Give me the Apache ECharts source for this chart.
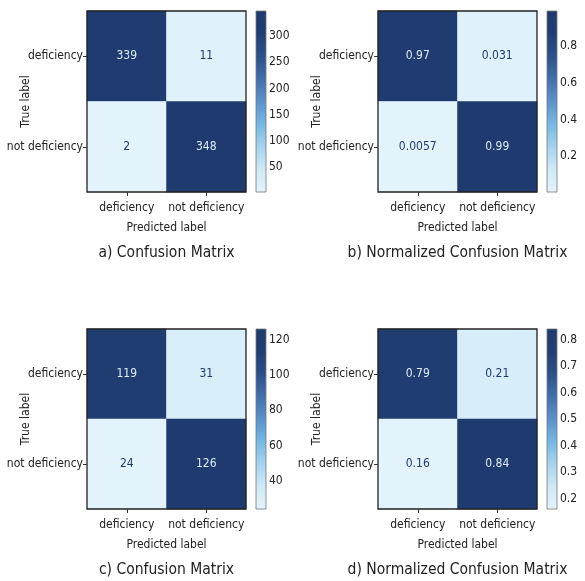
<!DOCTYPE html>
<html><head><meta charset="utf-8">
<script src="https://cdn.jsdelivr.net/npm/echarts@6/dist/echarts.min.js"></script>
<style>html,body{margin:0;padding:0;background:#fff}#c{width:585px;height:581px}</style>
</head><body><div id="c"></div>
<script>
var categories = ['deficiency', 'not deficiency'];
// rows = true label, cols = predicted label
var cmA = [[339, 11], [2, 348]];
var cmB = [[0.97, 0.031], [0.0057, 0.99]];
var cmC = [[119, 31], [24, 126]];
var cmD = [[0.79, 0.21], [0.16, 0.84]];
var ticksA = [50, 100, 150, 200, 250, 300];
var ticksB = [0.2, 0.4, 0.6, 0.8];
var ticksC = [40, 60, 80, 100, 120];
var ticksD = [0.2, 0.3, 0.4, 0.5, 0.6, 0.7, 0.8];
var subtitles = ['a) Confusion Matrix', 'b) Normalized Confusion Matrix', 'c) Confusion Matrix', 'd) Normalized Confusion Matrix'];

var FONT = '"Liberation Sans Narrow", "DejaVu Sans Condensed", "Roboto Condensed", sans-serif';
var cmap = ['#e3f3fb', '#cfe9f7', '#a6d4ef', '#74b8e4', '#5b92cc', '#4170ad', '#2c508a', '#213f74', '#1f3a6e'];
var TXT = '#222';

var panels = [
  {m: cmA, ticks: ticksA, x: 87, y: 11, h: 181},
  {m: cmB, ticks: ticksB, x: 378, y: 11, h: 181},
  {m: cmC, ticks: ticksC, x: 87, y: 329, h: 180},
  {m: cmD, ticks: ticksD, x: 378, y: 329, h: 180}
];

var grid = [], xAxis = [], yAxis = [], series = [], visualMap = [], graphic = [];
panels.forEach(function (p, i) {
  var flat = [p.m[0][0], p.m[0][1], p.m[1][0], p.m[1][1]];
  var mn = Math.min.apply(null, flat), mx = Math.max.apply(null, flat);
  var mid = (mn + mx) / 2;
  grid.push({left: p.x, top: p.y, width: 159, height: p.h, show: true, borderColor: '#222', borderWidth: 1.3, z: 5,
    backgroundColor: 'transparent', containLabel: false, outerBoundsMode: 'none'});
  grid.push({left: p.x + 169, top: p.y, width: 10, height: p.h, show: true, borderColor: '#777', borderWidth: 0.8, z: 5,
    backgroundColor: 'transparent', containLabel: false, outerBoundsMode: 'none'});
  var gi = i * 2, ci = i * 2 + 1;
  xAxis.push({type: 'category', gridIndex: gi, data: categories, position: 'bottom',
    axisLine: {show: false}, axisTick: {show: true, alignWithLabel: true, length: 4, lineStyle: {color: '#333'}},
    axisLabel: {color: TXT, fontFamily: FONT, fontSize: 12, margin: 10, interval: 0, hideOverlap: false},
    name: 'Predicted label', nameLocation: 'middle', nameGap: 30, nameMoveOverlap: false,
    nameTextStyle: {color: TXT, fontFamily: FONT, fontSize: 12}});
  yAxis.push({type: 'category', gridIndex: gi, data: categories, inverse: true,
    axisLine: {show: false}, axisTick: {show: true, alignWithLabel: true, length: 4, lineStyle: {color: '#333'}},
    axisLabel: {color: TXT, fontFamily: FONT, fontSize: 12, margin: 4, interval: 0, hideOverlap: false},
    name: 'True label', nameLocation: 'middle', nameGap: 55, nameRotate: 90, nameMoveOverlap: false,
    nameTextStyle: {color: TXT, fontFamily: FONT, fontSize: 12}});
  xAxis.push({type: 'value', gridIndex: ci, min: 0, max: 1, show: false});
  yAxis.push({type: 'value', gridIndex: ci, min: mn, max: mx, position: 'right', splitLine: {show: false},
    axisLine: {show: false},
    axisTick: {show: true, length: 4, customValues: p.ticks, lineStyle: {color: '#333'}},
    axisLabel: {show: true, customValues: p.ticks, color: TXT, fontFamily: FONT, fontSize: 12, margin: 3, hideOverlap: false}});
  var data = [];
  for (var r = 0; r < 2; r++) for (var c = 0; c < 2; c++) {
    var v = p.m[r][c];
    data.push({value: [c, r, v], label: {color: v > mid ? '#dcebf7' : '#1f3a6e'}});
  }
  var sIdx = series.length;
  series.push({type: 'heatmap', xAxisIndex: gi, yAxisIndex: gi, data: data,
    label: {show: true, fontFamily: FONT, fontSize: 12, formatter: function (d) { return String(d.value[2]); }},
    itemStyle: {borderWidth: 0}, emphasis: {disabled: true}});
  visualMap.push({type: 'continuous', show: false, seriesIndex: sIdx, dimension: 2, min: mn, max: mx, inRange: {color: cmap}});
  series.push({type: 'custom', xAxisIndex: ci, yAxisIndex: ci, data: [[0, mn]], silent: true,
    renderItem: (function (lo, hi) {
      return function (params, api) {
        var p0 = api.coord([0, lo]), p1 = api.coord([1, hi]);
        var stops = cmap.map(function (col, k) { return {offset: 1 - k / (cmap.length - 1), color: col}; }).reverse();
        return {type: 'rect', shape: {x: p0[0], y: p1[1], width: p1[0] - p0[0], height: p0[1] - p1[1]},
          style: {fill: new echarts.graphic.LinearGradient(0, 0, 0, 1, stops)}};
      };
    })(mn, mx)});
  graphic.push({type: 'text', x: p.x + 79.5, y: p.y + p.h + 53,
    style: {text: subtitles[i], fill: TXT, font: '15.5px ' + FONT, align: 'center', verticalAlign: 'top'}});
});

var chart = echarts.init(document.getElementById('c'), null, {renderer: 'canvas'});
chart.setOption({animation: false, backgroundColor: '#fff', grid: grid, xAxis: xAxis, yAxis: yAxis, visualMap: visualMap, series: series, graphic: graphic});
</script></body></html>
